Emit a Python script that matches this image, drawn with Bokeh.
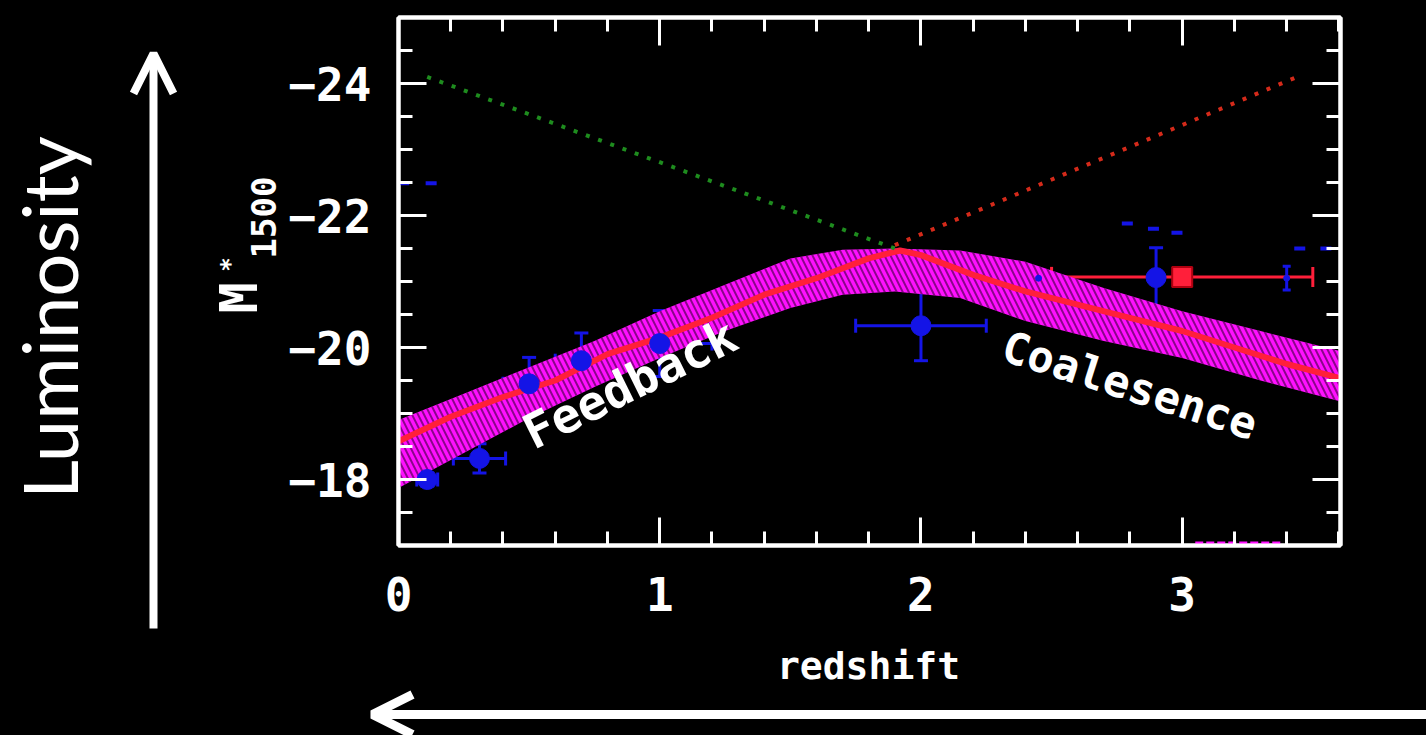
import math

from bokeh.core.properties import value
from bokeh.embed import file_html
from bokeh.layouts import column, row
from bokeh.models import (Arrow, ColumnDataSource, CustomJSTickFormatter, FixedTicker,
                          LinearAxis, OpenHead, Range1d, TeeHead, Whisker)
from bokeh.plotting import figure
from bokeh.resources import INLINE

# ---- characteristic UV magnitude M*_1500 versus redshift ----

# model envelope (bright and faint edges) and its central curve
band_z = [0.0, 0.25, 0.5, 0.75, 1.0, 1.25, 1.5, 1.7, 1.9, 2.15, 2.4, 2.7, 3.0, 3.3, 3.6]
band_bright = [-18.9, -19.3, -19.7, -20.1, -20.55, -20.95, -21.35, -21.48, -21.5, -21.47,
               -21.3, -20.9, -20.55, -20.25, -19.95]
band_faint = [-17.87, -18.4, -18.93, -19.4, -19.84, -20.25, -20.6, -20.8, -20.85, -20.75,
              -20.4, -20.1, -19.84, -19.5, -19.19]
fit_z = [0.0, 0.2, 0.4, 0.6, 0.8, 1.0, 1.2, 1.4, 1.6, 1.8, 1.92, 2.0, 2.2, 2.4, 2.6, 2.8,
         3.0, 3.2, 3.4, 3.6]
fit_m = [-18.58, -18.95, -19.25, -19.5, -19.9, -20.15, -20.45, -20.8, -21.05, -21.35, -21.47,
         -21.4, -21.1, -20.85, -20.65, -20.45, -20.25, -20.0, -19.75, -19.54]

# extrapolated trends of the two regimes
feedback_trend_z = [0.11, 1.90]
feedback_trend_m = [-24.1, -21.5]
coalescence_trend_z = [1.90, 3.44]
coalescence_trend_m = [-21.55, -24.1]

# measurements (blue) with errors
obs_z = [0.11, 0.31, 0.50, 0.70, 1.00, 2.00, 2.90]
obs_m = [-18.0, -18.32, -19.45, -19.8, -20.06, -20.33, -21.06]
obs_zerr = [0.04, 0.10, 0.10, 0.10, 0.20, 0.25, 0.0]
obs_merr = [0.10, 0.22, 0.40, 0.42, 0.50, 0.53, 0.45]

# faint secondary measurements
minor_z = [2.45, 3.40]
minor_m = [-21.05, -21.05]
minor_zerr = [0.05, 0.0]
minor_merr = [0.0, 0.18]

# short limit marks
limit_z = [0.02, 0.125, 2.79, 2.89, 2.98, 3.45, 3.55]
limit_m = [-22.49, -22.49, -21.88, -21.80, -21.74, -21.50, -21.50]

# high-redshift bin (red)
hiz_z = [3.0]
hiz_m = [-21.07]
hiz_zlo = [2.5]
hiz_zhi = [3.5]

# clipped envelope piece along the lower axis
clip_z = [3.05, 3.38]
clip_m = [-17.03, -17.03]

# regime labels
regime_text = ["Feedback", "Coalesence"]
regime_z = [0.885, 2.80]
regime_m = [-19.45, -19.43]
regime_angle = [0.46, -0.31]
regime_size = ["48px", "44px"]

x_major = [0, 1, 2, 3]
x_minor = [round(0.2 * i, 1) for i in range(0, 19)]
y_major = [-24, -22, -20, -18]
y_minor = [-25 + 0.5 * i for i in range(0, 17)]

MONO = "DejaVu Sans Mono"
BLUE = "#1414e6"
RED = "#ff1f3a"
MAGENTA = "#ff10ff"

# page pieces: side strip (left, full height), main plot, bottom strip under it
W, H = 1426, 735
SIDE_W = 285
TOP_H = 630

p = figure(width=W - SIDE_W, height=TOP_H, output_backend="svg", toolbar_location=None,
           x_range=Range1d(0, 3.606), y_range=Range1d(-17, -25),
           min_border_left=112, min_border_right=86, min_border_top=17,
           min_border_bottom=85, x_axis_location=None, y_axis_location=None)
p.background_fill_color = "black"
p.border_fill_color = "black"
p.outline_line_color = "white"
p.outline_line_width = 4
p.xgrid.visible = False
p.ygrid.visible = False

ymt = CustomJSTickFormatter(code="return (tick < 0 ? '\u2212' : '') + Math.abs(tick).toFixed(0);")
blank = CustomJSTickFormatter(code="return '';")


def style_axis(ax, labelled):
    ax.axis_line_color = "white"
    ax.axis_line_width = 4
    ax.major_tick_line_color = "white"
    ax.minor_tick_line_color = "white"
    ax.major_tick_line_width = 3
    ax.minor_tick_line_width = 3
    ax.major_tick_in = 28
    ax.major_tick_out = 0
    ax.minor_tick_in = 14
    ax.minor_tick_out = 0
    ax.major_label_text_color = "white"
    ax.major_label_text_font = MONO
    ax.major_label_text_font_style = "bold"
    if not labelled:
        ax.major_label_text_font_size = "0px"
        ax.major_label_standoff = 0
        ax.formatter = blank


xb = LinearAxis(ticker=FixedTicker(ticks=x_major, minor_ticks=x_minor))
style_axis(xb, True)
xb.major_label_text_font_size = "46px"
xb.major_label_standoff = 31
p.add_layout(xb, "below")

xt = LinearAxis(ticker=FixedTicker(ticks=x_major, minor_ticks=x_minor))
style_axis(xt, False)
p.add_layout(xt, "above")

yl = LinearAxis(ticker=FixedTicker(ticks=y_major, minor_ticks=y_minor), formatter=ymt)
style_axis(yl, True)
yl.major_label_text_font_size = "46px"
yl.major_label_standoff = 27
p.add_layout(yl, "left")

yr = LinearAxis(ticker=FixedTicker(ticks=y_major, minor_ticks=y_minor))
style_axis(yr, False)
p.add_layout(yr, "right")

# model envelope with hatching, and its central curve
p.varea(x=band_z, y1=band_bright, y2=band_faint, fill_color=MAGENTA,
        hatch_pattern="\\", hatch_color="#3c003c", hatch_scale=12, hatch_weight=2,
        hatch_alpha=0.6)
p.line(fit_z, fit_m, line_color=RED, line_width=6)
p.line(clip_z, clip_m, line_color=MAGENTA, line_width=4, line_dash="8 3")

# dotted extrapolations
p.line(feedback_trend_z, feedback_trend_m, line_color="#1e8c1e", line_width=4,
       line_dash="4 9")
p.line(coalescence_trend_z, coalescence_trend_m, line_color="#d42a1a", line_width=4,
       line_dash="4 9")

# measurements with error bars
head = dict(size=14, line_color=BLUE, line_width=3)
zs = [(z, m, e) for z, m, e in zip(obs_z, obs_m, obs_zerr) if e > 0]
ms = [(z, m, e) for z, m, e in zip(obs_z, obs_m, obs_merr) if e > 0]
src_zerr = ColumnDataSource(dict(base=[t[1] for t in zs], lo=[t[0] - t[2] for t in zs],
                                 hi=[t[0] + t[2] for t in zs]))
src_merr = ColumnDataSource(dict(base=[t[0] for t in ms], lo=[t[1] - t[2] for t in ms],
                                 hi=[t[1] + t[2] for t in ms]))
p.add_layout(Whisker(base="base", lower="lo", upper="hi", dimension="width", source=src_zerr,
                     line_color=BLUE, line_width=3, lower_head=TeeHead(**head),
                     upper_head=TeeHead(**head)))
p.add_layout(Whisker(base="base", lower="lo", upper="hi", dimension="height", source=src_merr,
                     line_color=BLUE, line_width=3, lower_head=TeeHead(**head),
                     upper_head=TeeHead(**head)))
p.scatter(obs_z, obs_m, size=20, fill_color=BLUE, line_color=BLUE)

mz = [(z, m, e) for z, m, e in zip(minor_z, minor_m, minor_zerr) if e > 0]
mm = [(z, m, e) for z, m, e in zip(minor_z, minor_m, minor_merr) if e > 0]
small_head = dict(size=8, line_color=BLUE, line_width=3)
p.add_layout(Whisker(base=mz[0][1], lower=mz[0][0] - mz[0][2], upper=mz[0][0] + mz[0][2],
                     dimension="width", line_color=BLUE, line_width=3,
                     lower_head=TeeHead(**small_head), upper_head=TeeHead(**small_head)))
p.add_layout(Whisker(base=mm[0][0], lower=mm[0][1] - mm[0][2], upper=mm[0][1] + mm[0][2],
                     dimension="height", line_color=BLUE, line_width=3,
                     lower_head=TeeHead(**small_head), upper_head=TeeHead(**small_head)))
p.scatter(minor_z, minor_m, size=6, fill_color=BLUE, line_color=BLUE)

p.scatter(limit_z, limit_m, marker="dash", size=11, line_color=BLUE, line_width=4)

# high-redshift bin
red_head = dict(size=20, line_color=RED, line_width=3)
p.add_layout(Whisker(base=hiz_m[0], lower=hiz_zlo[0], upper=hiz_zhi[0], dimension="width",
                     line_color=RED, line_width=3, lower_head=TeeHead(**red_head),
                     upper_head=TeeHead(**red_head)))
p.scatter(hiz_z, hiz_m, marker="square", size=20, fill_color=RED, line_color="#b00010",
          line_width=2)

# regime labels
for t, z, m, a, s in zip(regime_text, regime_z, regime_m, regime_angle, regime_size):
    p.text(x=[z], y=[m], text=[t], angle=a, text_color="white", text_font=value(MONO),
           text_font_style="bold", text_font_size=s, text_align="center",
           text_baseline="middle")


def strip(x0, x1, y0, y1):
    """A bare black panel whose data units are page pixels (y measured downwards)."""
    f = figure(width=x1 - x0, height=y1 - y0, output_backend="svg", toolbar_location=None,
               x_range=Range1d(x0, x1), y_range=Range1d(y1, y0), min_border=0,
               x_axis_location=None, y_axis_location=None)
    f.background_fill_color = "black"
    f.border_fill_color = "black"
    f.outline_line_color = None
    f.xgrid.visible = False
    f.ygrid.visible = False
    return f


# left strip: "Luminosity", its arrow, and the y-axis title M*_1500
side = strip(0, SIDE_W, 0, H)
side.text(x=[48], y=[317], text=["Luminosity"], angle=math.pi / 2, text_color="white",
          text_font=value("Lato"), text_font_size="76px", text_align="center",
          text_baseline="middle")
side.add_layout(Arrow(x_start=153, y_start=628, x_end=153, y_end=53, line_color="white",
                      line_width=8, end=OpenHead(size=40, line_color="white", line_width=8)))
side.text(x=[238], y=[313], text=["M"], angle=math.pi / 2, text_color="white",
          text_font=value(MONO), text_font_style="bold", text_font_size="52px",
          text_align="left", text_baseline="alphabetic")
side.text(x=[263], y=[258], text=["1500"], angle=math.pi / 2, text_color="white",
          text_font=value(MONO), text_font_style="bold", text_font_size="34px",
          text_align="left", text_baseline="alphabetic")
side.text(x=[229], y=[264], text=["*"], angle=math.pi / 2, text_color="white",
          text_font=value(MONO), text_font_style="bold", text_font_size="24px",
          text_align="center", text_baseline="middle")

# bottom strip: x-axis title and the redshift arrow
bottom = strip(SIDE_W, W, TOP_H, H)
bottom.text(x=[868], y=[665], text=["redshift"], text_color="white",
            text_font=value(MONO), text_font_style="bold", text_font_size="38px",
            text_align="center", text_baseline="alphabetic")
bottom.add_layout(Arrow(x_start=W, y_start=714, x_end=372, y_end=714,
                        line_color="white", line_width=9,
                        end=OpenHead(size=40, line_color="white", line_width=9)))

page = row(side, column(p, row(bottom, spacing=0), spacing=0), spacing=0)
page.styles = {"background-color": "black"}

open("out.html", "w").write(file_html(page, INLINE))
